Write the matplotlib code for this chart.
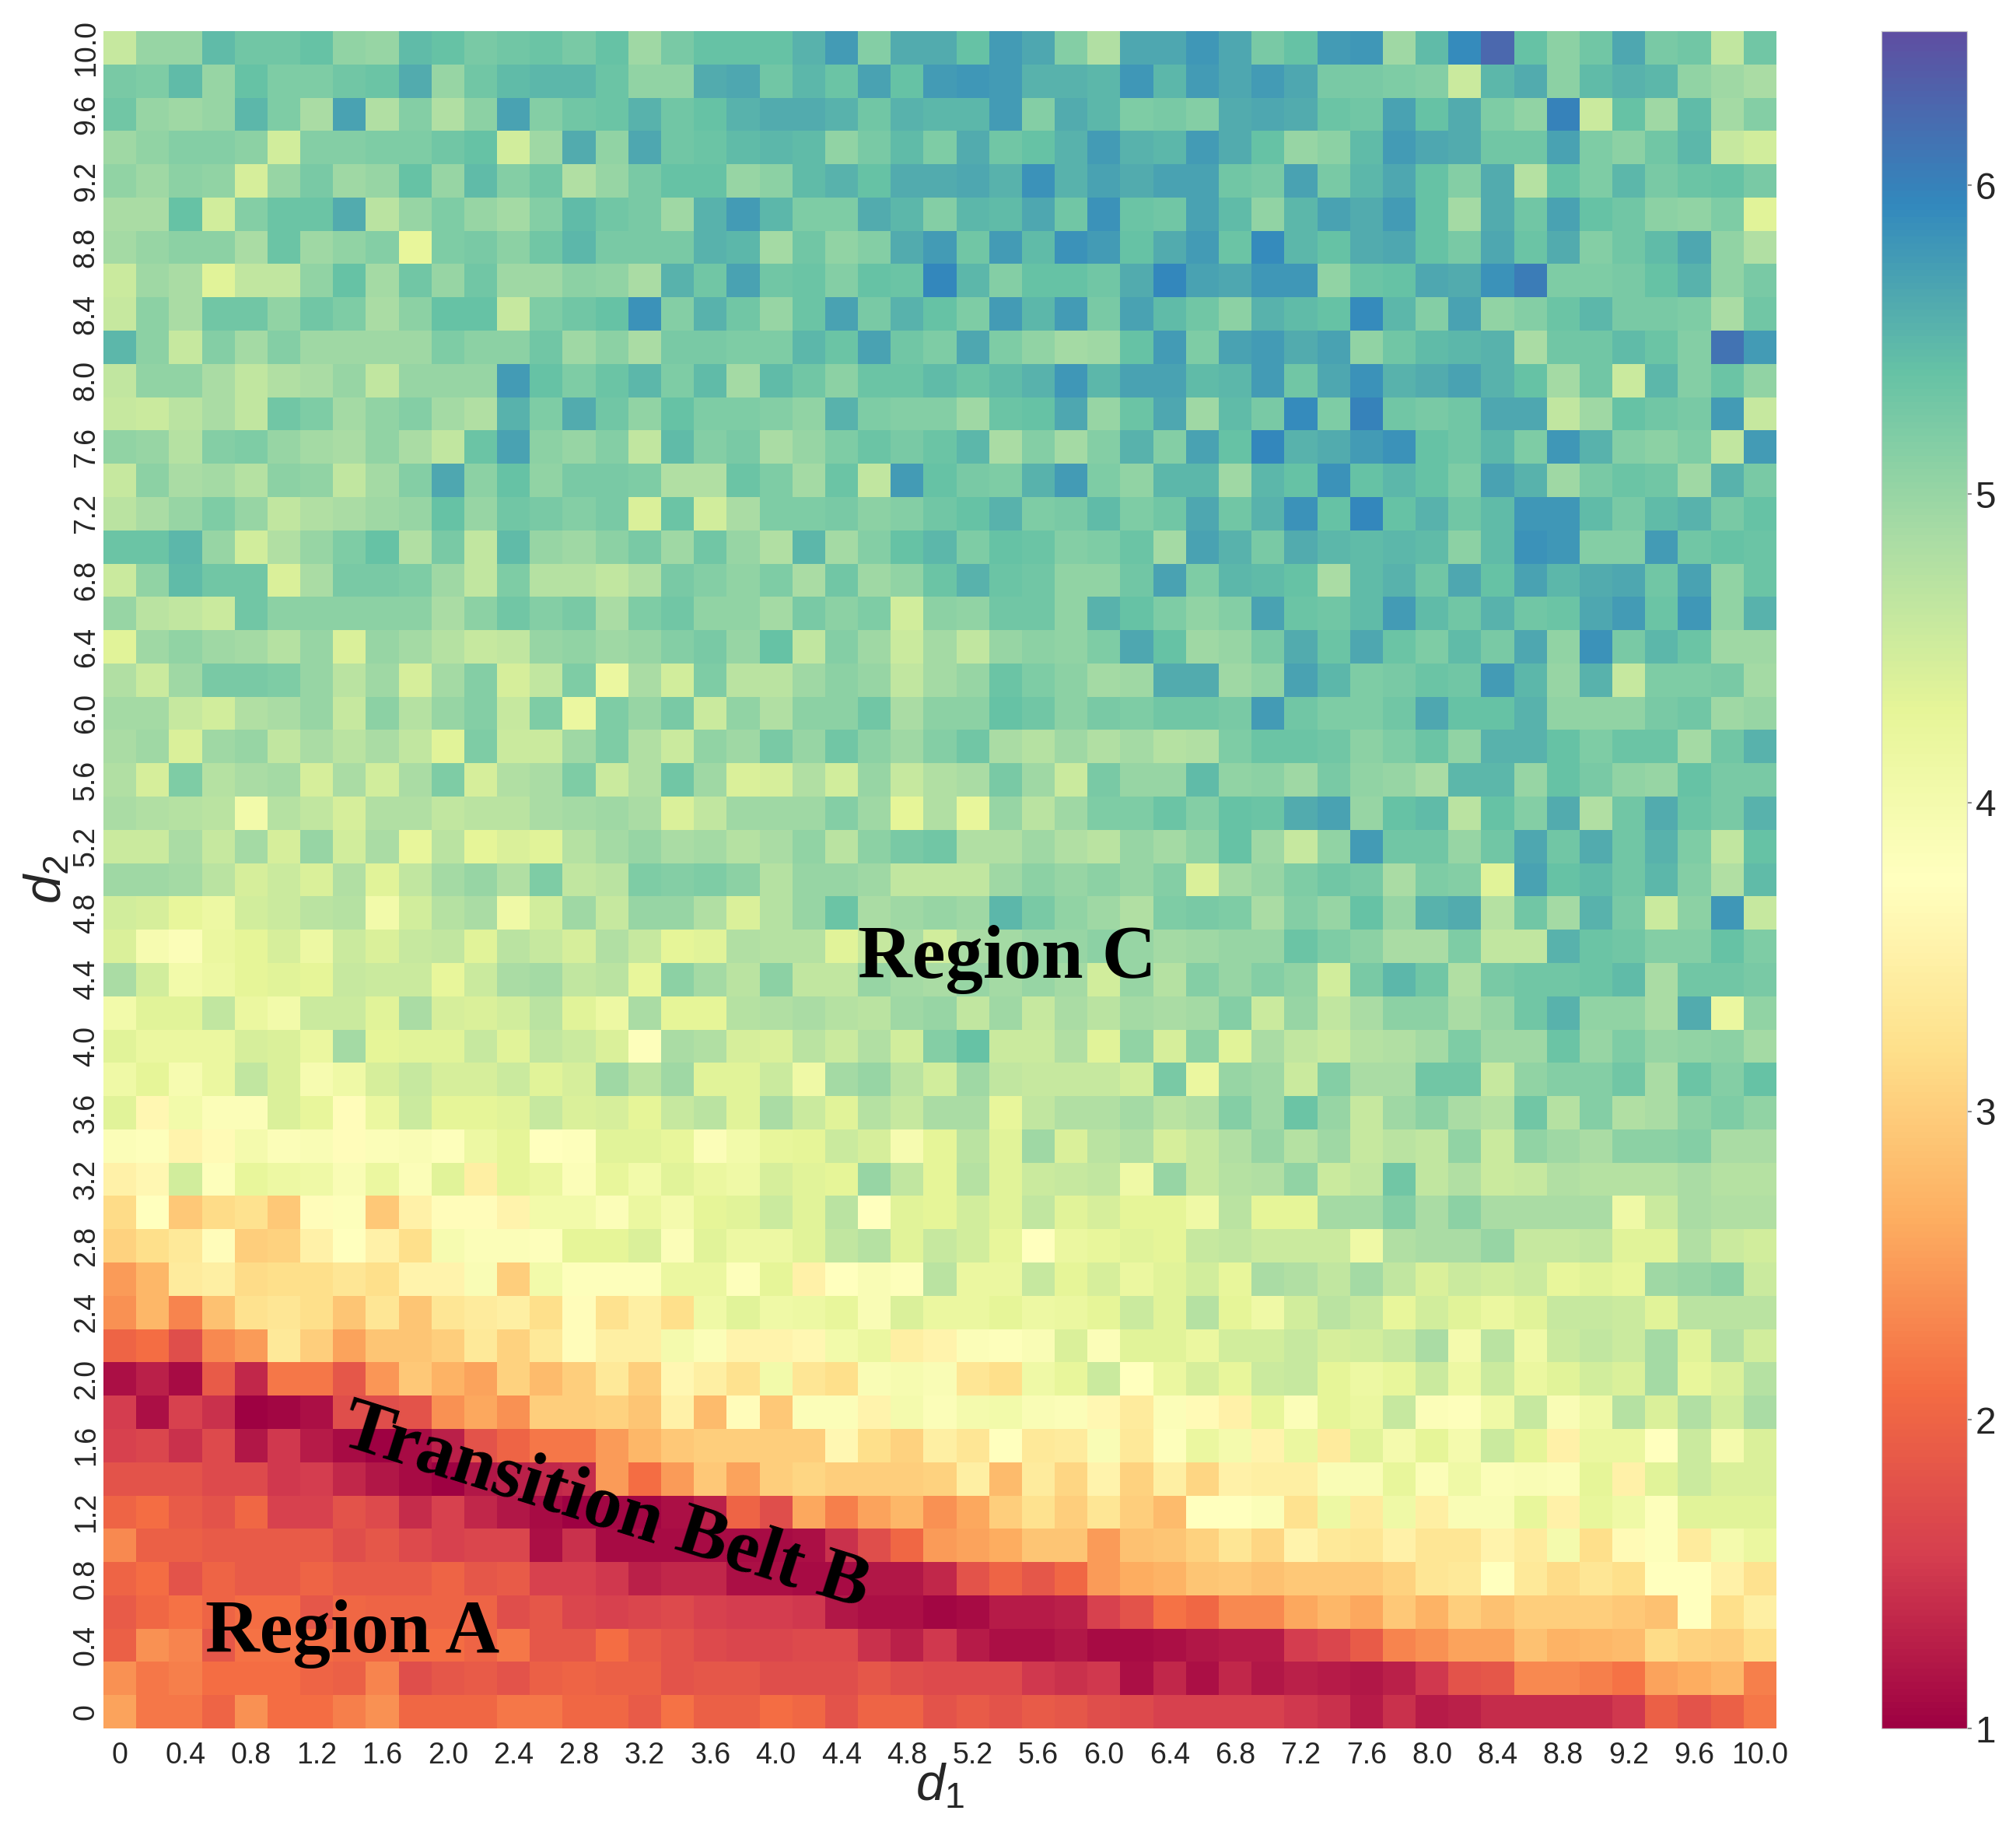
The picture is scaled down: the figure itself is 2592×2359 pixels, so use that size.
import numpy as np
import matplotlib
matplotlib.use("Agg")
import matplotlib.pyplot as plt

# one list per d2 value, left to right along d1
r00 = [2.55,2.2,2.2,2.0,2.4,2.1,2.1,2.25,2.4,2.05,2.05,2.05,2.2,2.2,2.05,2.05,1.9,2.15,1.95,1.95,2.1,2.05,1.8,2.0,2.0,1.8,
       1.9,1.8,1.9,1.85,1.75,1.7,1.6,1.6,1.6,1.6,1.5,1.45,1.25,1.45,1.25,1.3,1.4,1.4,1.4,1.4,1.5,1.95,1.8,1.95,2.2]
r01 = [2.4,2.2,2.25,2.1,2.1,2.1,2.0,1.95,2.3,1.75,1.85,1.9,1.8,1.95,2.0,1.95,1.95,1.8,1.85,1.85,1.75,1.75,1.75,1.85,1.75,1.7,
       1.7,1.7,1.5,1.45,1.5,1.15,1.35,1.15,1.35,1.2,1.3,1.25,1.2,1.3,1.5,1.8,1.85,2.35,2.35,2.25,2.15,2.55,2.65,2.75,2.25]
r02 = [1.95,2.4,2.3,1.85,2.15,2.15,2.1,2.05,2.05,2.1,2.1,2.0,2.2,1.85,1.85,2.1,1.9,1.8,1.7,1.65,1.65,1.7,1.7,1.45,1.3,1.5,
       1.25,1.15,1.15,1.2,1.1,1.1,1.15,1.2,1.25,1.25,1.55,1.65,1.9,2.3,2.4,2.55,2.55,2.85,2.7,2.75,2.8,3.15,3.05,3.0,3.2]
r03 = [1.9,2.05,2.15,2.0,2.1,2.1,1.85,2.05,2.0,2.0,2.0,2.0,1.75,1.85,1.65,1.6,1.65,1.7,1.6,1.55,1.55,1.5,1.2,1.15,1.15,1.05,
       1.1,1.25,1.25,1.3,1.6,1.8,2.15,2.05,2.35,2.35,2.6,2.75,2.6,2.95,2.7,3.0,2.85,3.0,3.0,3.0,2.95,2.85,3.75,3.2,3.45]
r04 = [2.0,2.1,1.8,2.0,1.9,1.9,2.0,1.9,1.9,1.9,2.0,1.85,1.9,1.6,1.6,1.5,1.3,1.35,1.35,1.15,1.15,1.1,1.1,1.2,1.2,1.35,
       1.8,2.0,1.85,2.05,2.5,2.65,2.7,2.9,2.95,2.85,2.95,2.95,2.95,3.05,3.3,3.35,3.75,3.35,3.15,3.3,3.2,3.75,3.75,3.5,3.25]
r05 = [2.35,1.95,1.95,1.9,1.9,1.9,1.9,1.75,1.85,1.7,1.6,1.65,1.65,1.15,1.45,1.1,1.1,1.1,1.1,1.1,1.1,1.15,1.45,1.75,2.05,2.5,
       2.55,2.65,2.9,2.9,2.5,2.85,2.9,3.05,3.3,3.1,3.55,3.35,3.3,3.5,3.3,3.3,3.55,3.4,4.0,3.2,3.65,3.8,3.4,4.0,4.2]
r06 = [2.0,2.1,1.9,1.8,2.05,1.6,1.6,1.8,1.7,1.4,1.6,1.35,1.2,1.1,1.0,1.05,1.05,1.15,1.3,2.0,1.75,2.6,2.25,2.55,2.75,2.4,
       2.6,3.0,3.25,3.0,3.3,3.0,2.8,3.75,3.75,3.85,3.25,4.15,3.4,4.1,3.45,3.9,3.9,4.25,3.5,4.25,4.1,3.8,4.35,4.35,4.35]
r07 = [1.8,1.8,1.8,1.7,1.7,1.5,1.55,1.35,1.2,1.1,1.0,1.2,1.3,1.35,1.4,2.5,2.1,2.5,2.95,2.55,3.0,3.1,3.0,3.0,3.0,3.05,
       3.45,2.8,3.4,3.1,3.55,3.05,3.45,3.1,3.5,3.45,3.45,3.9,3.9,4.25,3.85,4.1,3.85,3.9,3.85,4.3,3.5,4.35,4.55,4.4,4.4]
r08 = [1.6,1.65,1.45,1.7,1.2,1.5,1.25,1.1,1.0,1.1,1.3,1.8,2.0,2.2,2.2,2.5,2.75,2.95,3.0,3.0,3.0,3.0,3.6,3.2,3.05,3.45,
       3.3,3.75,3.35,3.4,3.9,3.35,3.8,4.2,4.0,3.55,4.2,3.4,4.35,4.0,4.3,4.0,4.55,4.3,3.5,4.2,4.2,3.75,4.55,4.0,4.4]
r09 = [1.55,1.15,1.6,1.45,1.0,1.05,1.15,1.75,1.75,1.8,2.4,2.6,2.4,3.0,3.0,3.05,2.9,3.5,2.8,3.7,2.95,3.85,3.85,3.55,4.0,3.85,
       4.0,4.05,3.9,3.85,3.6,3.4,3.85,3.65,3.5,4.25,3.85,4.3,4.2,4.6,3.85,3.8,4.1,4.6,3.9,4.1,4.75,4.4,4.8,4.5,4.85]
r10 = [1.15,1.3,1.1,1.9,1.35,2.2,2.2,1.85,2.45,2.95,2.7,2.55,3.05,2.8,3.0,3.35,3.0,3.6,3.45,3.25,4.05,3.3,3.2,3.9,3.95,3.9,
       3.3,3.2,4.1,4.25,4.55,3.75,4.2,4.45,4.25,4.55,4.6,4.3,4.15,4.25,4.55,4.15,4.55,4.2,4.35,4.5,4.4,4.9,4.25,4.4,4.75]
r11 = [2.0,2.1,1.75,2.35,2.5,3.35,3.0,2.55,2.9,2.9,3.0,3.35,3.05,3.35,3.7,3.45,3.45,4.0,3.85,3.55,3.55,3.6,4.05,4.2,3.45,3.55,
       3.85,3.8,3.9,4.4,3.85,4.35,4.35,4.2,4.5,4.5,4.6,4.45,4.5,4.6,4.85,4.0,4.7,4.1,4.55,4.65,4.55,4.9,4.35,4.8,4.5]
r12 = [2.4,2.75,2.3,2.85,3.25,3.3,3.2,2.9,3.3,2.9,3.3,3.4,3.45,3.2,3.7,3.25,3.45,3.2,4.1,4.35,4.1,4.15,4.25,3.9,4.4,4.2,
       4.2,4.3,4.15,4.2,4.3,4.55,4.35,4.75,4.3,4.1,4.5,4.7,4.6,4.25,4.5,4.35,4.2,4.35,4.6,4.6,4.55,4.35,4.7,4.7,4.7]
r13 = [2.5,2.75,3.4,3.45,3.15,3.2,3.2,3.3,3.2,3.55,3.55,3.9,3.0,4.05,3.8,3.8,3.8,4.2,4.2,3.8,4.3,3.5,3.75,3.9,3.8,4.7,
       4.2,4.2,4.6,4.3,4.45,4.2,4.35,4.5,4.25,4.85,4.8,4.65,4.9,4.65,4.4,4.55,4.5,4.55,4.25,4.35,4.25,4.95,5.0,5.1,4.55]
r14 = [3.05,3.2,3.35,3.7,3.0,3.05,3.5,3.75,3.5,3.2,3.95,3.85,3.85,3.8,4.3,4.3,4.4,3.85,4.35,4.15,4.15,4.35,4.65,4.75,4.35,4.6,
       4.5,4.25,3.75,4.2,4.25,4.35,4.3,4.6,4.65,4.55,4.55,4.55,4.1,4.8,4.85,4.85,5.0,4.6,4.6,4.65,4.35,4.35,4.8,4.55,4.5]
r15 = [3.15,3.75,2.95,3.15,3.25,2.95,3.7,3.8,2.95,3.5,3.7,3.7,3.55,4.05,4.05,3.85,4.2,4.0,4.3,4.35,4.55,4.35,4.7,3.75,4.35,4.3,
       4.5,4.35,4.65,4.35,4.45,4.3,4.3,4.1,4.7,4.3,4.3,4.9,4.9,5.15,4.85,5.1,4.85,4.85,4.85,4.85,4.1,4.55,4.85,4.8,4.8]
r16 = [3.5,3.6,4.5,3.8,4.25,4.15,4.1,3.9,4.2,3.85,4.35,3.45,4.3,4.2,3.85,4.25,4.05,4.35,4.2,4.1,4.45,4.35,4.3,5.0,4.65,4.3,
       4.75,4.35,4.55,4.6,4.65,4.1,5.0,4.6,4.75,4.8,5.05,4.55,4.65,5.3,4.65,4.8,4.55,4.6,4.8,4.75,4.75,4.75,4.85,4.75,4.75]
r17 = [3.85,3.8,3.55,3.65,4.0,3.85,3.9,3.7,3.85,3.9,3.8,4.15,4.3,3.75,3.8,4.35,4.35,4.25,3.85,4.05,4.25,4.3,4.55,4.45,3.95,4.3,
       4.7,4.35,4.95,4.4,4.7,4.8,4.45,4.6,4.8,5.0,4.75,4.95,4.6,4.7,4.65,5.05,4.55,5.05,4.95,4.85,5.1,5.1,5.15,4.85,4.85]
r18 = [4.35,3.6,4.05,3.85,3.85,4.4,4.25,3.7,4.2,4.55,4.3,4.3,4.35,4.6,4.4,4.45,4.3,4.6,4.7,4.35,4.85,4.55,4.35,4.75,4.6,4.85,
       4.85,4.25,4.65,4.8,4.8,4.9,4.7,4.8,5.15,4.95,5.35,5.0,4.6,4.95,5.1,4.85,4.75,5.3,4.75,5.15,4.8,4.85,5.1,5.2,5.05]
r19 = [4.1,4.3,3.95,4.2,4.65,4.4,3.95,4.1,4.45,4.6,4.45,4.45,4.55,4.35,4.45,4.95,4.7,4.95,4.35,4.35,4.55,4.1,4.9,5.0,4.7,4.5,
       4.95,4.65,4.6,4.6,4.6,4.5,5.25,4.2,5.0,4.95,4.55,5.15,4.85,4.85,5.3,5.3,4.6,5.05,5.15,5.15,5.3,4.85,5.35,5.15,5.4]
r20 = [4.35,4.2,4.2,4.2,4.45,4.4,4.2,4.9,4.3,4.35,4.35,4.6,4.35,4.65,4.55,4.4,3.8,4.85,4.8,4.45,4.4,4.7,4.55,4.8,4.5,5.15,
       5.4,4.55,4.55,4.8,4.35,5.05,4.45,5.1,4.35,4.85,4.65,4.55,4.75,4.8,4.9,5.2,4.95,4.95,5.35,5.0,5.2,5.0,5.05,5.1,4.9]
r21 = [4.05,4.35,4.35,4.65,4.2,4.05,4.55,4.55,4.35,4.85,4.45,4.4,4.5,4.7,4.35,4.15,4.85,4.3,4.3,4.75,4.8,4.85,4.75,4.7,4.95,5.0,
       4.65,4.95,4.6,4.85,4.7,4.9,4.85,4.9,5.15,4.55,5.0,4.65,4.85,5.1,5.1,4.85,5.0,5.3,5.55,5.05,5.05,4.85,5.6,4.2,5.05]
r22 = [4.85,4.5,4.05,4.15,4.3,4.35,4.3,4.6,4.55,4.55,4.25,4.55,4.85,4.9,4.65,4.7,4.25,5.1,4.9,4.7,5.1,4.65,4.65,5.0,4.9,4.85,
       5.0,4.9,5.0,4.9,4.5,5.0,4.75,5.15,5.0,5.15,5.05,4.5,5.25,5.5,5.3,4.8,5.25,5.3,5.3,5.35,5.45,4.85,5.3,5.3,5.25]
r23 = [4.4,3.95,3.85,4.2,4.3,4.45,4.15,4.55,4.4,4.6,4.65,4.35,4.7,4.6,4.45,4.8,4.6,4.3,4.35,4.8,4.75,4.75,4.35,4.6,4.85,4.5,
       4.85,4.9,5.0,5.0,5.1,5.0,4.9,4.95,5.0,5.0,5.35,5.2,5.1,4.85,4.85,5.2,4.65,4.65,5.55,5.35,5.3,5.15,5.15,5.4,5.2]
r24 = [4.5,4.45,4.25,4.15,4.5,4.55,4.7,4.75,4.05,4.5,4.75,4.85,4.1,4.5,4.95,4.6,5.0,5.0,4.8,4.4,4.75,5.0,5.35,4.85,4.95,5.0,
       4.95,5.5,5.25,5.05,4.95,4.8,5.2,5.25,5.2,4.85,5.15,5.0,5.4,5.0,5.55,5.6,4.75,5.3,4.9,5.55,5.25,4.55,5.1,5.8,4.6]
r25 = [4.95,4.95,4.9,4.7,4.45,4.55,4.4,4.8,4.35,4.65,4.9,5.0,4.8,5.2,4.65,4.7,5.2,5.15,5.2,5.1,4.75,5.0,5.0,4.95,4.65,4.65,
       4.65,4.95,5.1,5.0,5.1,5.0,5.15,4.4,4.9,5.0,5.2,5.3,5.25,4.85,5.2,5.15,4.35,5.7,5.4,5.45,5.3,5.5,5.15,4.8,5.45]
r26 = [4.55,4.55,4.85,4.6,4.9,4.45,5.0,4.5,4.85,4.25,4.7,4.3,4.4,4.35,4.75,4.9,5.0,4.85,4.9,4.75,4.85,5.05,4.7,5.1,5.25,5.3,
       4.8,4.8,4.95,4.8,4.7,5.0,4.9,5.05,5.4,4.95,4.6,5.05,5.75,5.3,5.3,5.0,5.3,5.65,5.3,5.6,5.3,5.55,5.2,4.65,5.4]
r27 = [4.85,4.8,4.75,4.7,4.05,4.75,4.65,4.45,4.8,4.8,4.65,4.7,4.7,4.85,4.9,4.95,4.85,4.4,4.65,4.95,4.95,4.95,5.15,4.95,4.3,4.8,
       4.25,5.0,4.7,4.95,5.2,5.2,5.35,5.15,5.4,5.35,5.6,5.7,5.0,5.4,5.45,4.7,5.4,5.15,5.6,4.8,5.3,5.6,5.35,5.25,5.55]
r28 = [4.8,4.45,5.2,4.75,4.85,4.9,4.45,4.85,4.5,4.85,5.2,4.45,4.8,4.85,5.2,4.55,4.8,5.3,4.95,4.4,4.45,4.8,4.5,5.0,4.6,4.8,
       4.85,5.25,4.95,4.55,5.25,5.0,5.0,5.45,5.05,5.1,4.95,5.25,5.05,5.0,4.85,5.5,5.5,5.0,5.4,5.25,5.05,5.0,5.4,5.25,5.25]
r29 = [4.85,4.95,4.4,4.95,5.0,4.65,4.85,4.7,4.85,4.65,4.35,5.2,4.55,4.55,4.95,5.2,4.8,4.55,5.05,4.95,5.25,5.0,5.3,5.1,4.95,5.15,
       5.3,4.85,4.75,4.95,4.8,4.9,4.75,4.8,5.2,5.35,5.35,5.3,5.1,5.2,5.35,5.05,5.55,5.55,5.4,5.2,5.35,5.35,4.9,5.3,5.55]
r30 = [4.9,4.9,4.6,4.5,4.8,4.85,5.0,4.6,5.1,4.75,5.0,5.15,4.6,5.2,4.2,5.2,5.0,5.25,4.55,5.05,4.8,5.1,5.1,5.3,4.85,5.1,
       5.1,5.4,5.3,5.1,5.25,5.2,5.3,5.3,5.25,5.75,5.3,5.2,5.2,5.3,5.65,5.4,5.4,5.55,5.05,5.05,5.05,5.25,5.3,4.95,5.0]
r31 = [4.8,4.55,4.95,5.25,5.25,5.2,5.0,4.7,4.95,4.45,4.9,5.15,4.45,4.65,5.2,4.2,4.85,4.5,5.2,4.7,4.7,4.95,5.1,5.0,4.65,4.9,
       5.0,5.35,5.2,5.1,4.9,4.95,5.6,5.6,4.95,5.05,5.7,5.5,5.2,5.25,5.35,5.3,5.75,5.5,5.0,5.55,4.6,5.2,5.2,5.25,4.9]
r32 = [4.35,4.95,5.05,4.95,4.9,4.75,5.0,4.4,5.0,4.9,4.75,4.6,4.65,5.0,5.05,4.95,5.0,5.15,5.25,5.0,5.4,4.65,5.15,4.95,4.55,4.9,
       4.65,5.0,5.1,5.05,5.2,5.65,5.4,4.95,5.0,5.25,5.6,5.35,5.65,5.35,5.2,5.45,5.25,5.65,5.05,5.85,5.25,5.5,5.35,4.95,4.95]
r33 = [5.0,4.7,4.65,4.55,5.3,5.1,5.1,5.1,5.1,5.1,4.85,5.1,5.3,5.15,5.25,4.85,5.2,5.3,5.05,5.05,4.9,5.25,5.1,5.2,4.5,5.1,
       5.05,5.3,5.3,5.05,5.55,5.4,5.2,5.05,5.15,5.7,5.35,5.3,5.45,5.75,5.45,5.3,5.55,5.3,5.35,5.65,5.75,5.35,5.8,5.05,5.55]
r34 = [4.55,5.05,5.45,5.3,5.3,4.4,4.85,5.25,5.25,5.2,4.95,4.65,5.2,4.75,4.75,4.65,4.8,5.25,5.15,5.05,5.2,4.85,5.3,4.95,5.05,5.35,
       5.55,5.35,5.3,5.05,5.05,5.3,5.7,5.2,5.5,5.45,5.4,4.85,5.45,5.55,5.3,5.65,5.4,5.7,5.5,5.6,5.65,5.3,5.7,5.05,5.35]
r35 = [5.35,5.35,5.5,5.0,4.5,4.8,5.0,5.2,5.4,4.8,5.25,4.65,5.45,5.0,4.95,5.1,5.25,4.95,5.3,5.0,4.8,5.5,4.9,5.15,5.4,5.5,
       5.2,5.4,5.35,5.15,5.2,5.35,4.9,5.7,5.55,5.25,5.6,5.5,5.45,5.5,5.45,5.1,5.45,5.85,5.8,5.15,5.15,5.75,5.3,5.4,5.35]
r36 = [4.7,4.85,5.0,5.2,5.0,4.65,4.8,4.85,4.95,5.0,5.4,5.0,5.3,5.25,5.15,5.25,4.4,5.35,4.5,4.85,5.2,5.2,5.25,5.1,5.15,5.3,
       5.4,5.55,5.2,5.25,5.45,5.2,5.3,5.65,5.3,5.55,5.85,5.4,5.95,5.4,5.55,5.3,5.45,5.8,5.8,5.45,5.25,5.45,5.55,5.25,5.4]
r37 = [4.6,5.1,4.85,4.9,4.75,5.1,5.05,4.65,4.9,5.15,5.65,5.1,5.4,5.05,5.25,5.25,5.2,4.8,4.8,5.35,5.2,4.9,5.35,4.65,5.75,5.4,
       5.25,5.2,5.55,5.75,5.2,5.05,5.5,5.5,4.95,5.5,5.4,5.85,5.4,5.5,5.4,5.2,5.7,5.55,4.95,5.25,5.35,5.3,4.95,5.55,5.25]
r38 = [5.05,5.0,4.75,5.15,5.2,5.0,4.9,4.85,5.05,4.85,4.65,5.35,5.7,5.1,5.0,5.15,4.65,5.45,5.15,5.25,4.85,5.0,5.2,5.35,5.25,5.35,
       5.5,4.85,5.15,4.9,5.15,5.55,5.15,5.7,5.4,5.95,5.55,5.6,5.75,5.85,5.4,5.3,5.5,5.2,5.8,5.55,5.15,5.1,5.2,4.65,5.75]
r39 = [4.6,4.55,4.7,4.85,4.65,5.3,5.2,4.9,5.05,5.15,4.9,4.8,5.55,5.2,5.6,5.3,5.05,5.4,5.2,5.2,5.15,5.05,5.55,5.2,5.15,5.15,
       4.95,5.35,5.4,5.65,5.0,5.35,5.65,4.95,5.45,5.25,5.9,5.2,6.0,5.3,5.25,5.3,5.65,5.65,4.65,4.95,5.4,5.3,5.25,5.75,4.6]
r40 = [4.65,5.05,5.05,4.85,4.65,4.8,4.85,5.0,4.65,5.0,5.0,5.0,5.75,5.4,5.2,5.35,5.5,5.2,5.45,4.9,5.45,5.3,5.1,5.35,5.35,5.45,
       5.35,5.45,5.55,5.8,5.5,5.7,5.7,5.45,5.5,5.75,5.3,5.65,5.85,5.55,5.6,5.7,5.55,5.4,4.9,5.3,4.55,5.5,5.15,5.35,5.05]
r41 = [5.5,5.1,4.6,5.15,4.9,5.15,4.95,4.95,4.95,4.95,5.2,5.1,5.1,5.3,4.95,5.1,4.85,5.25,5.25,5.2,5.2,5.5,5.35,5.7,5.3,5.2,
       5.65,5.2,5.05,4.9,4.95,5.4,5.75,5.2,5.7,5.75,5.6,5.7,5.05,5.3,5.45,5.5,5.55,4.85,5.3,5.3,5.45,5.35,5.15,6.15,5.75]
r42 = [4.6,5.1,4.85,5.3,5.3,5.05,5.3,5.2,4.85,5.1,5.4,5.4,4.6,5.2,5.3,5.4,5.85,5.15,5.55,5.3,5.0,5.35,5.7,5.25,5.55,5.4,
       5.2,5.75,5.5,5.75,5.25,5.7,5.45,5.3,5.1,5.55,5.45,5.4,5.9,5.5,5.15,5.7,5.05,5.15,5.35,5.5,5.25,5.25,5.2,4.85,5.3]
r43 = [4.55,4.95,4.85,4.35,4.65,4.65,5.05,5.4,4.9,5.3,5.0,5.3,4.95,4.95,5.1,5.05,4.85,5.55,5.3,5.7,5.3,5.35,5.15,5.4,5.35,5.95,
       5.5,5.15,5.4,5.4,5.3,5.6,5.95,5.7,5.65,5.8,5.8,5.05,5.35,5.4,5.65,5.6,5.85,6.05,5.2,5.2,5.25,5.4,5.55,5.05,5.25]
r44 = [4.9,5.0,5.1,5.1,4.85,5.35,4.95,5.05,5.15,4.25,5.2,5.25,5.1,5.3,5.5,5.25,5.25,5.25,5.55,5.5,4.9,5.3,5.05,5.15,5.6,5.75,
       5.3,5.75,5.45,5.85,5.75,5.4,5.6,5.75,5.35,5.9,5.5,5.4,5.6,5.65,5.4,5.25,5.65,5.35,5.6,5.15,5.3,5.45,5.65,5.05,4.8]
r45 = [4.85,4.85,5.4,4.5,5.15,5.35,5.35,5.6,4.7,5.0,5.2,5.0,4.9,5.15,5.45,5.3,5.25,4.95,5.55,5.75,5.5,5.2,5.2,5.6,5.5,5.15,
       5.5,5.45,5.65,5.3,5.85,5.35,5.3,5.7,5.45,5.05,5.5,5.7,5.6,5.75,5.4,4.9,5.6,5.3,5.7,5.4,5.3,5.1,5.05,5.2,4.35]
r46 = [5.05,4.95,5.1,5.05,4.45,5.0,5.25,4.95,5.0,5.4,5.0,5.45,5.15,5.3,4.8,5.0,5.25,5.4,5.4,5.0,5.1,5.45,5.55,5.4,5.6,5.6,
       5.65,5.55,5.85,5.55,5.7,5.6,5.7,5.7,5.3,5.25,5.7,5.25,5.5,5.65,5.4,5.15,5.6,4.75,5.4,5.2,5.5,5.25,5.35,5.4,5.25]
r47 = [4.95,5.05,5.15,5.15,5.1,4.5,5.15,5.15,5.2,5.2,5.3,5.4,4.5,4.95,5.6,5.05,5.65,5.3,5.35,5.45,5.5,5.45,5.05,5.25,5.45,5.2,
       5.6,5.3,5.4,5.55,5.75,5.55,5.5,5.75,5.6,5.4,5.0,5.1,5.45,5.75,5.65,5.6,5.3,5.3,5.7,5.2,5.1,5.3,5.5,4.6,4.5]
r48 = [5.3,5.0,4.95,5.0,5.5,5.2,4.85,5.7,4.8,5.15,4.8,5.1,5.7,5.15,5.3,5.35,5.55,5.3,5.4,5.55,5.6,5.6,5.55,5.3,5.55,5.5,
       5.5,5.75,5.15,5.6,5.5,5.2,5.25,5.15,5.6,5.65,5.6,5.35,5.3,5.7,5.4,5.6,5.2,5.05,6.0,4.55,5.4,4.95,5.45,4.9,5.15]
r49 = [5.25,5.2,5.45,5.0,5.4,5.2,5.2,5.3,5.35,5.6,5.0,5.3,5.45,5.5,5.5,5.35,5.05,5.05,5.6,5.65,5.3,5.5,5.35,5.7,5.4,5.75,
       5.8,5.75,5.55,5.55,5.5,5.8,5.5,5.75,5.65,5.75,5.65,5.25,5.25,5.2,5.15,4.55,5.5,5.6,5.1,5.45,5.55,5.5,5.05,4.95,4.85]
r50 = [4.6,5.0,5.0,5.45,5.3,5.3,5.4,5.05,5.0,5.45,5.4,5.25,5.3,5.35,5.25,5.4,4.95,5.25,5.4,5.4,5.4,5.55,5.75,5.15,5.6,5.6,
       5.4,5.75,5.65,5.15,4.8,5.65,5.65,5.8,5.65,5.25,5.4,5.75,5.8,4.95,5.45,5.9,6.25,5.4,5.1,5.3,5.65,5.25,5.3,4.65,5.3]

rows = [r00, r01, r02, r03, r04, r05, r06, r07, r08, r09,
        r10, r11, r12, r13, r14, r15, r16, r17, r18, r19,
        r20, r21, r22, r23, r24, r25, r26, r27, r28, r29,
        r30, r31, r32, r33, r34, r35, r36, r37, r38, r39,
        r40, r41, r42, r43, r44, r45, r46, r47, r48, r49, r50]

tick_labels = ["0", "0.4", "0.8", "1.2", "1.6", "2.0", "2.4", "2.8", "3.2", "3.6", "4.0", "4.4", "4.8",
               "5.2", "5.6", "6.0", "6.4", "6.8", "7.2", "7.6", "8.0", "8.4", "8.8", "9.2", "9.6", "10.0"]
cbar_ticks = [1, 2, 3, 4, 5, 6]

plt.rcParams["font.family"] = ["Liberation Sans", "DejaVu Sans"]
plt.rcParams["mathtext.fontset"] = "custom"
plt.rcParams["mathtext.it"] = "Liberation Sans:italic"
plt.rcParams["mathtext.rm"] = "Liberation Sans"

W, H = 2592, 2359
fig = plt.figure(figsize=(W / 300, H / 300), dpi=300)
ax = fig.add_axes([133 / W, 1 - 2222 / H, 2151 / W, 2182 / H])
cax = fig.add_axes([2419 / W, 1 - 2222 / H, 110 / W, 2182 / H])

z = np.array(rows)
mesh = ax.pcolormesh(np.arange(52), np.arange(52), z, cmap="Spectral", vmin=1, vmax=6.5)

pos = np.arange(26) * 2 + 0.5
ax.set_xticks(pos)
ax.set_xticklabels(tick_labels)
ax.set_yticks(pos)
ax.set_yticklabels(tick_labels, rotation=90, va="center")
ax.tick_params(length=0, labelsize=9, labelcolor="#262626")
ax.tick_params(axis="x", pad=4)
ax.tick_params(axis="y", pad=1)
for s in ax.spines.values():
    s.set_visible(False)
ax.set_xlabel("$d_1$", fontsize=16, color="#262626", labelpad=-2)
ax.set_ylabel("$d_2$", fontsize=16, color="#262626", labelpad=0)

cb = fig.colorbar(mesh, cax=cax)
cb.set_ticks(cbar_ticks)
cb.ax.tick_params(length=1.5, width=0.5, color="#888888", labelsize=11.5, labelcolor="#262626", pad=1)
cb.outline.set_linewidth(0.3)
cb.outline.set_edgecolor("#cccccc")

serif = dict(family="Liberation Serif", weight="bold", color="black", fontsize=23.2)
ax.text(3.1, 2.3, "Region A", ha="left", va="baseline", **serif)
ax.text(23.0, 22.55, "Region C", ha="left", va="baseline", **serif)
ax.text(15.3, 6.6, "Transition Belt B", ha="center", va="center", rotation=-17.5,
        rotation_mode="anchor", **serif)

fig.savefig("out.png", dpi=300)
